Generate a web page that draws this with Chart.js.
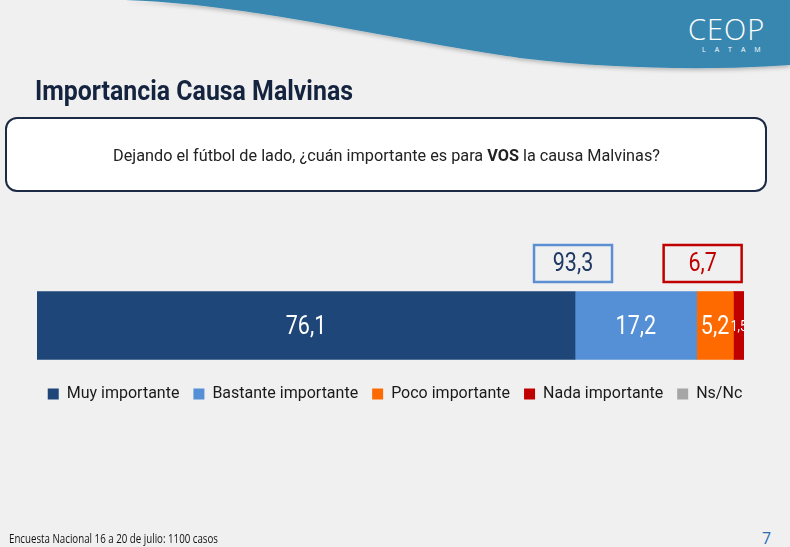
<!DOCTYPE html>
<html>
<head>
<meta charset="utf-8">
<script src="https://cdn.jsdelivr.net/npm/chart.js@4.4.0/dist/chart.umd.min.js"></script>
<style>
  html,body{margin:0;padding:0;}
  body{width:790px;height:547px;position:relative;overflow:hidden;background:#f0f0f0;font-family:Roboto,sans-serif;}
  #wave{position:absolute;left:0;top:0;}
  #logo{position:absolute;left:688px;top:9px;color:#fff;font-family:"Open Sans",sans-serif;font-weight:300;font-size:29px;letter-spacing:1px;}
  #latam{position:absolute;left:702px;top:45px;color:#fff;font-family:"Open Sans",sans-serif;font-size:7px;letter-spacing:9px;}
  .fit{position:absolute;white-space:nowrap;transform-origin:0 0;}
  #title{left:35px;top:74px;font-size:28px;font-weight:bold;color:#14243f;}
  #qbox{position:absolute;left:5px;top:117px;width:758px;height:71px;background:#fff;border:2px solid #1c2b45;border-radius:12px;}
  #qtext{left:113px;top:145px;font-size:17px;color:#222;}
  #chartWrap{position:absolute;left:0;top:230px;width:790px;height:182px;}
  #foot{left:9px;top:530px;font-size:12px;color:#111;font-family:"Open Sans",sans-serif;}
  #page{position:absolute;left:762px;top:527px;font-size:16px;color:#2e6db4;font-family:"Open Sans",sans-serif;}
</style>
</head>
<body>
<svg id="wave" width="790" height="90">
  <defs>
    <filter id="sh" x="-5%" y="-20%" width="110%" height="160%">
      <feGaussianBlur in="SourceAlpha" stdDeviation="2"/>
      <feOffset dy="2"/>
      <feComponentTransfer><feFuncA type="linear" slope="0.25"/></feComponentTransfer>
      <feMerge><feMergeNode/><feMergeNode in="SourceGraphic"/></feMerge>
    </filter>
  </defs>
  <path d="M 125 0 C 250 4, 380 38, 520 58 C 620 70, 720 70, 790 65 L 790 0 Z" fill="#3787b1" filter="url(#sh)"/>
</svg>
<div id="logo">CEOP</div>
<div id="latam">LATAM</div>
<div id="title" class="fit" data-w="318">Importancia Causa Malvinas</div>
<div id="qbox"></div>
<div id="qtext" class="fit" data-w="547">Dejando el fútbol de lado, ¿cuán importante es para <b>VOS</b> la causa Malvinas?</div>
<div id="chartWrap"><canvas id="c"></canvas></div>
<div id="foot" class="fit" data-w="209">Encuesta Nacional 16 a 20 de julio: 1100 casos</div>
<div id="page">7</div>
<script>
document.querySelectorAll('.fit').forEach(el => {
  const target = +el.dataset.w;
  const w = el.getBoundingClientRect().width;
  el.style.transform = 'scaleX(' + (target / w) + ')';
});

const categories = ["Total"];
const seriesNames = ["Muy importante", "Bastante importante", "Poco importante", "Nada importante", "Ns/Nc"];
const seriesValues = [76.1, 17.2, 5.2, 1.5, 0];
const seriesColors = ["#1f4678", "#5590d6", "#ff6a00", "#c00000", "#a6a6a6"];
const labelSizes = [25, 25, 25, 14, 14];
const groupPositive = [0, 1];   // Muy + Bastante
const groupNegative = [2, 3];   // Poco + Nada

const FONT = 'Roboto, sans-serif';
const SQ = 0.86;  // horizontal condensing for canvas text
const fmt = v => v.toFixed(1).replace('.', ',');

function condensedText(ctx, text, x, y) {
  ctx.save();
  ctx.translate(x, y);
  ctx.scale(SQ, 1);
  ctx.fillText(text, 0, 0);
  ctx.restore();
}

const labelPlugin = {
  id: 'segLabels',
  afterDatasetsDraw(chart) {
    const ctx = chart.ctx, area = chart.chartArea;
    ctx.save();
    ctx.beginPath();
    ctx.rect(area.left, area.top, area.right - area.left, area.bottom - area.top);
    ctx.clip();
    chart.data.datasets.forEach((ds, i) => {
      const v = ds.data[0];
      if (!v) return;
      const el = chart.getDatasetMeta(i).data[0];
      const cx = (el.x + el.base) / 2;
      ctx.fillStyle = '#ffffff';
      ctx.font = labelSizes[i] + 'px ' + FONT;
      ctx.textAlign = 'center';
      ctx.textBaseline = 'middle';
      condensedText(ctx, fmt(v), cx, el.y + 2);
    });
    ctx.restore();
  }
};

const boxPlugin = {
  id: 'sumBoxes',
  afterDraw(chart) {
    const ctx = chart.ctx, xs = chart.scales.x;
    const pos = groupPositive.reduce((a, i) => a + seriesValues[i], 0);
    const neg = groupNegative.reduce((a, i) => a + seriesValues[i], 0);
    const boxes = [
      {v: pos, cx: xs.getPixelForValue(seriesValues[0]) - 2, stroke: '#5b8fd2', color: '#1f3864'},
      {v: neg, cx: xs.getPixelForValue(pos) + 6, stroke: '#c00000', color: '#c00000'}
    ];
    const w = 78, h = 37, top = 15;
    ctx.save();
    boxes.forEach(b => {
      ctx.lineWidth = 2.5;
      ctx.strokeStyle = b.stroke;
      ctx.strokeRect(b.cx - w / 2, top, w, h);
      ctx.fillStyle = b.color;
      ctx.font = '25px ' + FONT;
      ctx.textAlign = 'center';
      ctx.textBaseline = 'middle';
      condensedText(ctx, fmt(b.v), b.cx, top + h / 2 + 1);
    });
    ctx.restore();
  }
};

const hiddenAxis = (pos, width) => ({
  position: pos, stacked: true,
  ticks: {display: false}, grid: {display: false, drawTicks: false}, border: {display: false},
  afterFit(s) { s.width = width; }
});

new Chart(document.getElementById('c'), {
  type: 'bar',
  data: {
    labels: categories,
    datasets: seriesNames.map((n, i) => ({
      label: n,
      data: [seriesValues[i]],
      backgroundColor: seriesColors[i],
      borderWidth: 0,
      barThickness: 68,
      yAxisID: 'y'
    }))
  },
  options: {
    indexAxis: 'y',
    responsive: true,
    maintainAspectRatio: false,
    animation: false,
    layout: {padding: {left: 0, right: 0, top: 49, bottom: 0}},
    scales: {
      x: {stacked: true, min: 0, max: 100, display: false},
      y: hiddenAxis('left', 37),
      y2: Object.assign(hiddenAxis('right', 46), {type: 'category', labels: categories})
    },
    plugins: {
      tooltip: {enabled: false},
      legend: {
        position: 'bottom',
        labels: {
          boxWidth: 11, boxHeight: 11, padding: 14,
          color: '#1a1a1a',
          font: {family: FONT, size: 16}
        }
      }
    }
  },
  plugins: [labelPlugin, boxPlugin]
});
</script>
</body>
</html>
